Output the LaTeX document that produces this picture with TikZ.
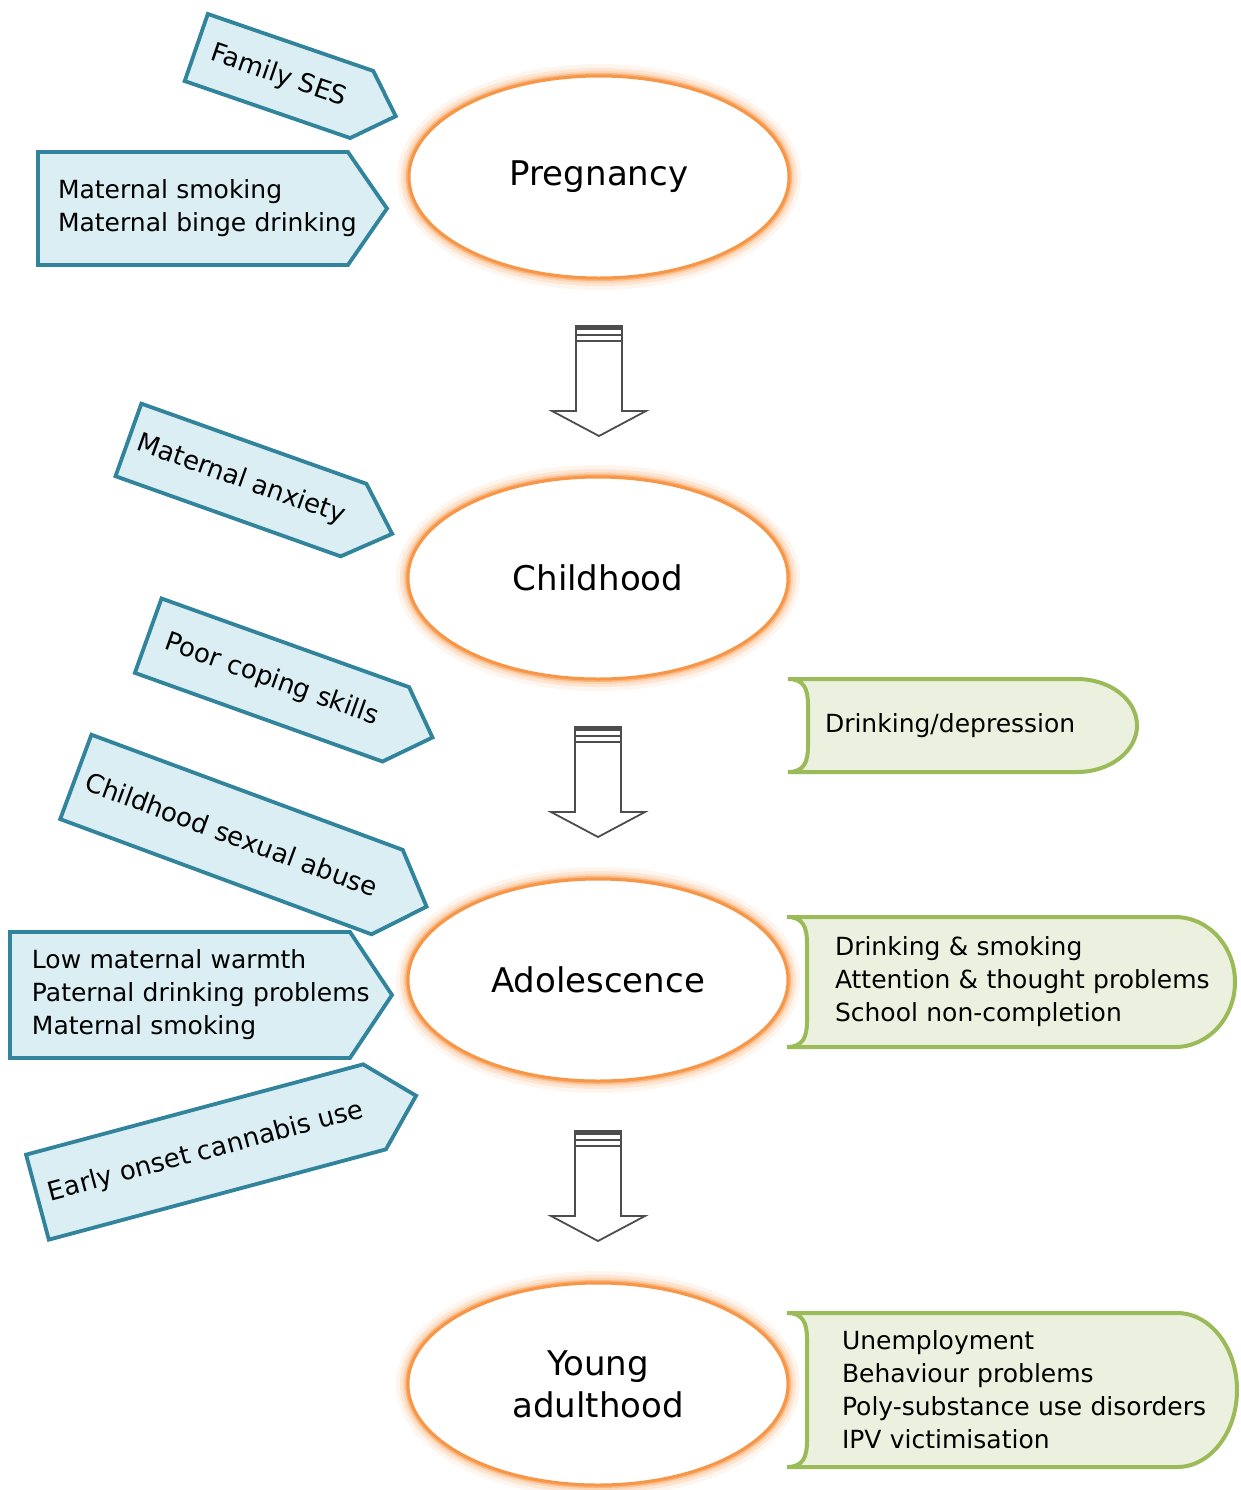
\documentclass[tikz,border=0pt]{standalone}
\usepackage{fontspec}
\setmainfont{DejaVu Sans}
\usetikzlibrary{shapes.geometric,calc,backgrounds}
\definecolor{bfill}{HTML}{DAEEF3}
\definecolor{bline}{HTML}{31849B}
\definecolor{gfill}{HTML}{EBF1DE}
\definecolor{gline}{HTML}{9BBB59}
\definecolor{orng}{HTML}{F79646}
\definecolor{glow}{HTML}{FAC08F}
\definecolor{arr}{HTML}{4D4D4D}
\tikzset{
 stage/.style={ellipse, draw=orng, line width=1.5pt, fill=white,
   minimum width=190pt, minimum height=101pt, inner sep=0pt, outer sep=0pt,
   font=\fontsize{17}{21}\selectfont, align=center,
   preaction={draw=glow, line width=12pt, opacity=0.15},
   preaction={draw=glow, line width=8pt, opacity=0.3},
   preaction={draw=orng!70, line width=5pt, opacity=0.35},
   preaction={draw=orng, line width=3pt, opacity=0.5}},
 factor/.style={inner sep=0pt, outer sep=0pt, font=\fontsize{12.5}{16.5}\selectfont},
 tilted/.style={inner sep=0pt, outer sep=0pt, font=\fontsize{13}{16}\selectfont},
 bluebox/.style={draw=bline, fill=bfill, line width=1.9pt, line join=miter},
 greenbox/.style={draw=gline, fill=gfill, line width=2pt},
 blockarrow/.style={draw=arr, line width=0.9pt, fill=white, line join=miter},
}
% box with pointed tip: #1 node name, #2 tip depth beyond the node's east side
\newcommand\tipshape[2]{%
 \draw[bluebox] (#1.north west) -- (#1.north east) -- ($(#1.east)!-#2!(#1.west)$)
   -- (#1.south east) -- (#1.south west) -- cycle;}
\newcommand\pentshape[2]{%
 \draw[bluebox] (#1.north west) -- ($(#1.north east)!#2!(#1.north west)$) -- (#1.east)
   -- ($(#1.south east)!#2!(#1.south west)$) -- (#1.south west) -- cycle;}
\newcommand\greenshape[1]{%
 \draw[greenbox] (#1.north west)
   .. controls ([xshift=8pt]#1.north west) and ([xshift=10pt,yshift=-5pt]#1.north west) .. ([xshift=10pt,yshift=-13pt]#1.north west)
   -- ([xshift=10pt,yshift=13pt]#1.south west)
   .. controls ([xshift=10pt,yshift=5pt]#1.south west) and ([xshift=8pt]#1.south west) .. (#1.south west)
   -- ([xshift=-30pt]#1.south east)
   .. controls ([xshift=-13.4pt]#1.south east) and ($(#1.east)!0.552!(#1.south east)$) .. (#1.east)
   .. controls ($(#1.east)!0.552!(#1.north east)$) and ([xshift=-13.4pt]#1.north east) .. ([xshift=-30pt]#1.north east)
   -- cycle;}
\newcommand\blockarr[1]{%
 \begin{scope}[shift={(#1)}]
  \draw[blockarrow] (-23,15) -- (-23,85) -- (-47,85) -- (0,110) -- (47,85) -- (23,85) -- (23,15);
  \draw[blockarrow] (-23,0) rectangle (23,15);
  \fill[arr] (-23,0) rectangle (23,3.5);
  \draw[arr, line width=0.9pt] (-23,9) -- (23,9);
 \end{scope}}
\begin{document}
\begin{tikzpicture}[x=0.5pt,y=-0.5pt]
\useasboundingbox (0,0) rectangle (1241,1490);

% life stages
\node[stage] (preg) at (599,177) {Pregnancy};
\node[stage] (child) at (598,578) {Childhood};
\node[stage] (adol) at (598,980) {Adolescence};
\node[stage] (young) at (598,1384) {Young\\adulthood};

% block arrows between stages
\coordinate (a1) at ([yshift=-24pt]preg.south);
\coordinate (a2) at ([yshift=-24pt]child.south);
\coordinate (a3) at ([yshift=-25pt]adol.south);
\blockarr{a1}
\blockarr{a2}
\blockarr{a3}

% risk factors (blue)
\node[tilted, rotate=-19, minimum width=87.5pt, minimum height=35.5pt] (ses) at (279,76) {Family SES};
\node[factor, minimum width=174.5pt, minimum height=56.5pt, inner xsep=10pt, text width=154.5pt, align=left]
  (msm) at (212.5,208.5) {\mbox{Maternal smoking}\\\mbox{Maternal binge drinking}};
\node[tilted, rotate=-19.6, minimum width=119.5pt, minimum height=38.5pt] (manx) at (241,480) {Maternal anxiety};
\node[tilted, rotate=-19.7, minimum width=131.5pt, minimum height=39.5pt] (pcs) at (272,680) {Poor coping skills};
\node[tilted, rotate=-20.3, minimum width=166pt, minimum height=45pt] (csa) at (231.5,834.5) {Childhood sexual abuse};
\node[factor, minimum width=191pt, minimum height=63pt, inner xsep=11pt, text width=169pt, align=left]
  (lmw) at (201,995) {\mbox{Low maternal warmth}\\\mbox{Paternal drinking problems}\\\mbox{Maternal smoking}};
\node[tilted, rotate=15, minimum width=174.5pt, minimum height=44pt] (eocu) at (206,1152) {Early onset cannabis use};

% outcomes (green)
\node[factor, minimum width=174.5pt, minimum height=46.5pt, inner xsep=18.5pt, text width=137.5pt, align=left]
  (dd) at (962.5,725.5) {\mbox{Drinking/depression}};
\node[factor, minimum width=224pt, minimum height=65pt, inner xsep=24pt, text width=176pt, align=left]
  (aout) at (1011,982) {\mbox{Drinking \& smoking}\\\mbox{Attention \& thought problems}\\\mbox{School non-completion}};
\node[factor, minimum width=225pt, minimum height=77pt, inner xsep=27.5pt, text width=170pt, align=left]
  (yout) at (1012,1390) {\mbox{Unemployment}\\\mbox{Behaviour problems}\\\mbox{Poly-substance use disorders}\\\mbox{IPV victimisation}};

\begin{scope}[on background layer]
 \tipshape{ses}{18pt}
 \pentshape{msm}{0.112}
 \tipshape{manx}{20.5pt}
 \tipshape{pcs}{19.5pt}
 \tipshape{csa}{21pt}
 \pentshape{lmw}{0.11}
 \tipshape{eocu}{21.5pt}
 \greenshape{dd}
 \greenshape{aout}
 \greenshape{yout}
\end{scope}
\end{tikzpicture}
\end{document}
